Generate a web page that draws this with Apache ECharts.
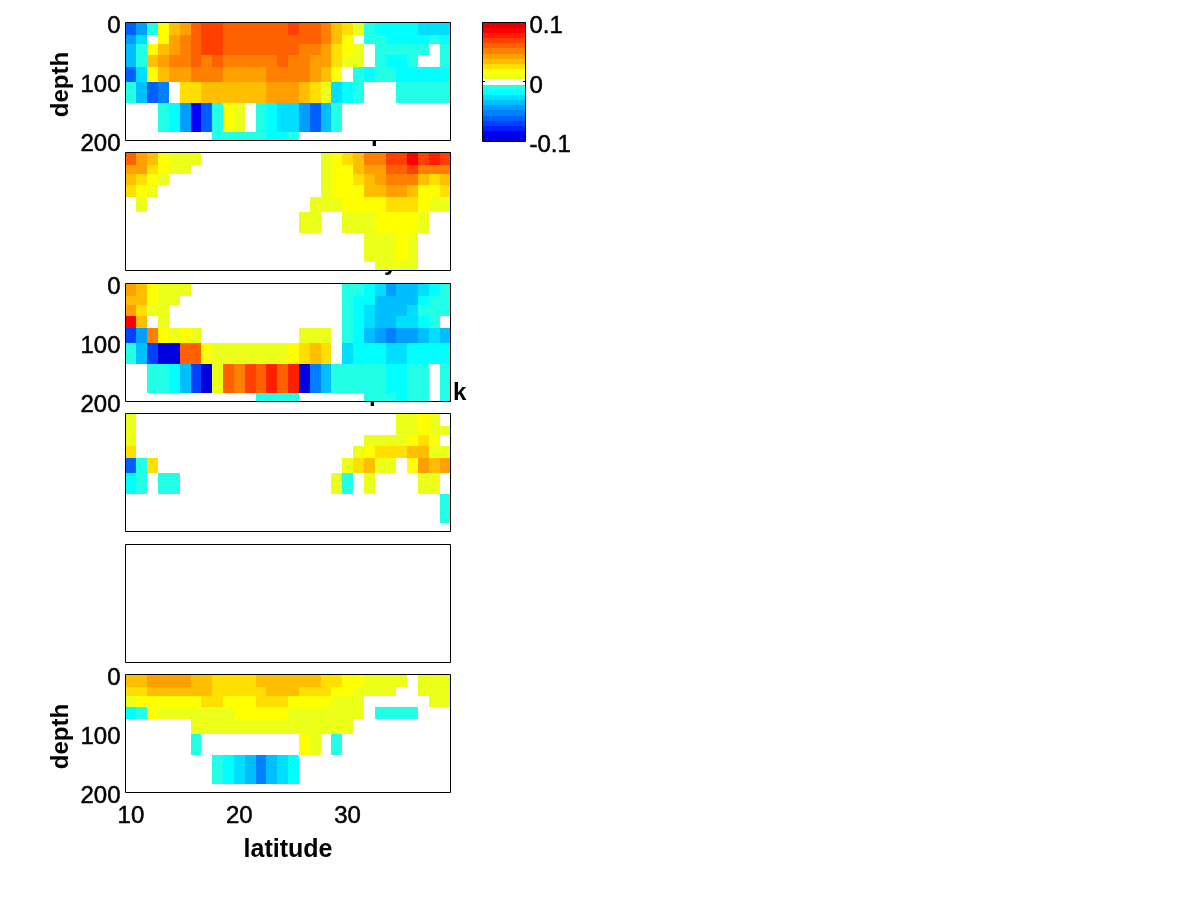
<!DOCTYPE html>
<html>
<head>
<meta charset="utf-8">
<style>html,body{margin:0;padding:0;background:#fff}#c{width:1200px;height:900px}</style>
<script src="https://cdn.jsdelivr.net/npm/echarts@6/dist/echarts.min.js"></script>
</head>
<body>
<div id="c"></div>
<script>
// Latitude of each column centre
const latitudes = [10,11,12,13,14,15,16,17,18,19,20,21,22,23,24,25,26,27,28,29,30,31,32,33,34,35,36,37,38,39];
// Depth edges of the eight rows
const depthEdges = [0,21.5,37,55.5,75,100.5,136,185.5,200];
// Anomaly, in colour steps of about 0.0087 (0 = blank)
const panel1 = [
[-7,-5,-1,2,4,5,7,8,8,7,7,7,7,7,7,8,7,7,6,4,3,1,-1,-2,-2,-2,-2,-3,-3,-3],
[-5,-3,0,2,5,6,7,8,8,7,7,7,7,7,7,7,7,7,6,4,2,0,-1,-1,-2,-2,-2,-2,-1,-2],
[-4,-1,2,4,5,6,7,8,8,7,7,7,7,7,7,7,6,6,5,3,2,1,0,-1,-1,-1,-1,-1,0,-1],
[-4,-1,4,5,6,6,7,6,7,6,6,6,6,6,7,6,6,5,5,3,1,1,0,-1,-2,-2,-1,0,0,-1],
[-7,-3,2,4,5,5,6,6,6,5,5,5,5,6,6,6,6,5,4,2,0,-1,-2,-1,-1,-2,-2,-2,-2,-2],
[-1,-4,-7,-6,0,3,3,4,4,4,4,4,4,5,5,5,4,3,1,-3,-2,-1,0,0,0,-1,-1,-1,-1,-1],
[0,0,0,-1,-2,-5,-10,-7,-1,2,1,0,-1,-2,-3,-3,-5,-7,-4,-1,0,0,0,0,0,0,0,0,0,0],
[0,0,0,0,0,0,0,0,-1,-1,-1,-1,-1,-2,-2,-1,0,0,0,0,0,0,0,0,0,0,0,0,0,0]];
const panel2 = [
[7,5,4,2,1,1,1,0,0,0,0,0,0,0,0,0,0,0,1,2,3,4,6,6,8,8,10,8,9,8],
[5,5,3,2,1,1,0,0,0,0,0,0,0,0,0,0,0,0,1,2,2,4,5,5,7,7,8,6,6,6],
[4,3,2,1,0,0,0,0,0,0,0,0,0,0,0,0,0,0,1,2,2,3,4,5,6,6,6,4,3,4],
[3,2,1,0,0,0,0,0,0,0,0,0,0,0,0,0,0,0,1,2,2,2,4,4,5,5,4,2,2,3],
[0,1,0,0,0,0,0,0,0,0,0,0,0,0,0,0,0,1,1,1,2,2,2,2,3,3,3,2,1,1],
[0,0,0,0,0,0,0,0,0,0,0,0,0,0,0,0,1,1,0,0,1,1,1,2,2,2,2,1,0,0],
[0,0,0,0,0,0,0,0,0,0,0,0,0,0,0,0,0,0,0,0,0,0,1,1,1,2,1,0,0,0],
[0,0,0,0,0,0,0,0,0,0,0,0,0,0,0,0,0,0,0,0,0,0,0,1,1,1,1,0,0,0]];
const panel3 = [
[5,4,2,1,1,1,0,0,0,0,0,0,0,0,0,0,0,0,0,0,-1,-1,-2,-3,-5,-4,-4,-3,-2,-1],
[4,4,2,1,1,0,0,0,0,0,0,0,0,0,0,0,0,0,0,0,-1,-2,-2,-4,-4,-4,-4,-2,-1,-1],
[5,3,1,1,0,0,0,0,0,0,0,0,0,0,0,0,0,0,0,0,-1,-2,-3,-4,-4,-4,-3,-1,-1,-1],
[10,4,0,1,0,0,0,0,0,0,0,0,0,0,0,0,0,0,0,0,-1,-2,-3,-4,-4,-3,-3,-2,-1,0],
[-8,-5,6,2,1,2,1,0,0,0,0,0,0,0,0,0,1,1,1,0,-1,-2,-4,-5,-6,-5,-5,-4,-3,-4],
[-1,-4,-8,-11,-11,7,7,2,1,1,1,1,1,1,1,2,3,4,3,0,-3,-2,-2,-2,-3,-3,-2,-2,-2,-2],
[0,0,-1,-1,-2,-4,-8,-11,1,7,6,8,7,9,7,9,-11,-6,-4,-1,-1,-1,-1,-1,-2,-2,-1,-1,0,-1],
[0,0,0,0,0,0,0,0,0,0,0,0,-1,-1,-1,-1,0,0,0,0,0,0,-1,-1,-1,-2,-1,-1,0,-1]];
const panel4 = [
[1,0,0,0,0,0,0,0,0,0,0,0,0,0,0,0,0,0,0,0,0,0,0,0,0,1,1,2,1,0],
[1,0,0,0,0,0,0,0,0,0,0,0,0,0,0,0,0,0,0,0,0,0,0,0,0,1,1,2,1,1],
[1,0,0,0,0,0,0,0,0,0,0,0,0,0,0,0,0,0,0,0,0,0,1,1,1,1,2,3,2,0],
[3,0,0,0,0,0,0,0,0,0,0,0,0,0,0,0,0,0,0,0,0,1,2,3,3,3,4,4,1,1],
[-7,-1,3,0,0,0,0,0,0,0,0,0,0,0,0,0,0,0,0,0,1,3,4,1,1,0,2,5,4,5],
[-2,-1,0,-1,-1,0,0,0,0,0,0,0,0,0,0,0,0,0,0,1,-1,0,1,0,0,0,0,1,1,0],
[0,0,0,0,0,0,0,0,0,0,0,0,0,0,0,0,0,0,0,0,0,0,0,0,0,0,0,0,0,-1],
[0,0,0,0,0,0,0,0,0,0,0,0,0,0,0,0,0,0,0,0,0,0,0,0,0,0,0,0,0,0]];
const panel5 = [];
const panel6 = [
[4,4,5,5,5,5,4,4,3,3,3,3,4,4,4,4,4,4,3,3,2,2,1,1,1,1,0,1,1,1],
[3,3,4,4,4,4,4,4,3,3,3,3,3,4,4,4,3,3,3,2,2,1,1,1,1,0,0,1,1,1],
[1,2,2,2,2,2,2,3,3,2,2,2,3,3,3,2,2,2,2,1,1,1,0,0,0,0,0,0,1,1],
[-2,-1,2,1,1,1,1,1,1,1,2,2,2,2,2,1,1,1,1,1,1,1,0,-1,-1,-1,-1,0,0,0],
[0,0,0,0,0,0,1,1,1,1,1,1,1,1,1,1,1,1,1,1,1,0,0,0,0,0,0,0,0,0],
[0,0,0,0,0,0,-1,0,0,0,0,0,0,0,0,0,2,1,0,-1,0,0,0,0,0,0,0,0,0,0],
[0,0,0,0,0,0,0,0,-1,-2,-3,-4,-6,-4,-3,-2,0,0,0,0,0,0,0,0,0,0,0,0,0,0],
[0,0,0,0,0,0,0,0,0,0,0,0,0,0,0,0,0,0,0,0,0,0,0,0,0,0,0,0,0,0]];
const panels = [panel1,panel2,panel3,panel4,panel5,panel6];
const panelTops = [22,152,283,413,544,674];
// Colour scale: warm steps 1..11, cold steps -1..-11
const warmColors = ['#ebff19','#ffff00','#ffdf00','#ffbf00','#ff9f00','#ff8000','#ff6000','#ff4000','#ff2000','#ff0000','#df0000'];
const coldColors = ['#22ffe6','#00ffff','#00dfff','#00bfff','#009fff','#0080ff','#0060ff','#0040ff','#0020ff','#0000ff','#0000df'];
const colorSteps = [-11,-10,-9,-8,-7,-6,-5,-4,-3,-2,-1,0,1,2,3,4,5,6,7,8,9,10,11];
const depthTicks = [0,100,200];
const latTicks = [10,20,30];
const barTicks = [-0.1,0,0.1];

const FONT = 'Liberation Sans';
const tickText = {fontFamily:FONT, fontSize:24, color:'#000', textBorderColor:'#000', textBorderWidth:0.5};
// Rich label that sits a little below its tick position, as in the reference
const lowered = {
  formatter:v=>'{t|'+v+'}',
  rich:{t:Object.assign({lineHeight:32, verticalAlign:'bottom'}, tickText)}
};
function colorOf(s){ return s===0 ? '#ffffff' : s>0 ? warmColors[s-1] : coldColors[-s-1]; }

function renderCell(params, api){
  const lat = api.value(0), r = api.value(1), s = api.value(2);
  const a = api.coord([lat-0.5, depthEdges[r]]);
  const b = api.coord([lat+0.5, depthEdges[r+1]]);
  const cs = params.coordSys;
  const x0 = Math.max(Math.round(a[0]), Math.ceil(cs.x)), x1 = Math.min(Math.round(b[0]), Math.floor(cs.x+cs.width));
  const y0 = Math.max(Math.round(a[1]), Math.ceil(cs.y)), y1 = Math.min(Math.round(b[1]), Math.floor(cs.y+cs.height));
  return {type:'rect', shape:{x:x0,y:y0,width:x1-x0,height:y1-y0}, style:{fill:colorOf(s)}};
}
function renderBar(params, api){
  const s = api.value(0), n = colorSteps.length, dv = 0.2/n;
  const i = colorSteps.indexOf(s);
  const a = api.coord([0, -0.1 + dv*i]);
  const b = api.coord([1, -0.1 + dv*(i+1)]);
  const cs = params.coordSys;
  const x0 = Math.ceil(cs.x), x1 = Math.floor(cs.x+cs.width);
  const y0 = Math.max(Math.round(b[1]), Math.ceil(cs.y)), y1 = Math.min(Math.round(a[1]), Math.floor(cs.y+cs.height));
  return {type:'rect', shape:{x:x0,y:y0,width:x1-x0,height:y1-y0}, style:{fill:colorOf(s)}};
}
function renderBarTick(params, api){
  const a = api.coord([0, api.value(0)]), b = api.coord([1, api.value(0)]);
  const y = Math.round(a[1]) - 1;
  return {type:'group', children:[
    {type:'rect', shape:{x:Math.ceil(a[0]), y, width:2, height:1}, style:{fill:'#000'}},
    {type:'rect', shape:{x:Math.floor(b[0])-2, y, width:2, height:1}, style:{fill:'#000'}}
  ]};
}

const grid = [], xAxis = [], yAxis = [], series = [];
panels.forEach((rows, p) => {
  grid.push({left:125.5, top:panelTops[p]+0.5, width:325, height:118, show:true, backgroundColor:'#fff', borderColor:'#000', borderWidth:1});
  const showY = p===0 || p===2 || p===5;
  const named = p===0 || p===5;
  xAxis.push({
    type:'value', gridIndex:p, min:9.5, max:39.5,
    splitLine:{show:false}, axisLine:{show:false}, axisTick:{show:false},
    name: p===5 ? 'latitude' : '', nameLocation:'middle', nameGap:45,
    nameTextStyle:{fontFamily:FONT, fontSize:25, fontWeight:'bold', color:'#000'},
    axisLabel:Object.assign({show:p===5, customValues:latTicks, margin:12, hideOverlap:false}, tickText)
  });
  yAxis.push({
    type:'value', gridIndex:p, inverse:true, min:0, max:200,
    splitLine:{show:false}, axisLine:{show:false}, axisTick:{show:false},
    name: named ? 'depth' : '', nameLocation:'middle', nameGap:52, nameRotate:90,
    nameTextStyle:{fontFamily:FONT, fontSize:24, fontWeight:'bold', color:'#000', padding:[0,6,0,0]},
    axisLabel:Object.assign({show:showY, customValues:depthTicks, margin:5}, lowered)
  });
  const data = [];
  rows.forEach((row, r) => row.forEach((s, c) => { if (s!==0) data.push([latitudes[c], r, s]); }));
  series.push({type:'custom', name:'panel'+(p+1), xAxisIndex:p, yAxisIndex:p, renderItem:renderCell, data, clip:false, silent:true, animation:false, encode:{x:0,y:1}});
});

// Colour bar
const B = panels.length;
grid.push({left:482.5, top:22.5, width:43, height:119, show:true, backgroundColor:'#fff', borderColor:'#000', borderWidth:1});
xAxis.push({type:'value', gridIndex:B, min:0, max:1, show:false});
yAxis.push({
  type:'value', gridIndex:B, position:'right', min:-0.1, max:0.1,
  splitLine:{show:false}, axisLine:{show:false, onZero:false}, axisTick:{show:false},
  axisLabel:Object.assign({customValues:barTicks, margin:4}, lowered)
});
series.push({type:'custom', name:'colorbar', xAxisIndex:B, yAxisIndex:B, renderItem:renderBar,
  data:colorSteps.map(s=>[s]), clip:false, silent:true, animation:false, encode:{y:0}});
series.push({type:'custom', name:'colorbarTick', xAxisIndex:B, yAxisIndex:B, renderItem:renderBarTick,
  data:[[0]], clip:false, silent:true, animation:false, z:3, encode:{y:0}});

// Panel titles sit behind the axes, only these glyph parts show
const titleFont = 'bold 24px "Liberation Sans"';
const graphicEls = [
  {type:'text', z:-5, x:371, y:146, style:{text:'p', font:titleFont, fill:'#000', textVerticalAlign:'bottom'}},
  {type:'text', z:-5, x:384, y:275, style:{text:'y', font:titleFont, fill:'#000', textVerticalAlign:'bottom'}},
  {type:'text', z:-5, x:369, y:406, style:{text:'p', font:titleFont, fill:'#000', textVerticalAlign:'bottom'}},
  {type:'text', z:-5, x:453, y:405, style:{text:'k', font:titleFont, fill:'#000', textVerticalAlign:'bottom'}}
];

const chart = echarts.init(document.getElementById('c'), null, {renderer:'canvas'});
chart.setOption({animation:false, backgroundColor:'#fff', grid, xAxis, yAxis, series, graphic:{elements:graphicEls}});
</script>
</body>
</html>
